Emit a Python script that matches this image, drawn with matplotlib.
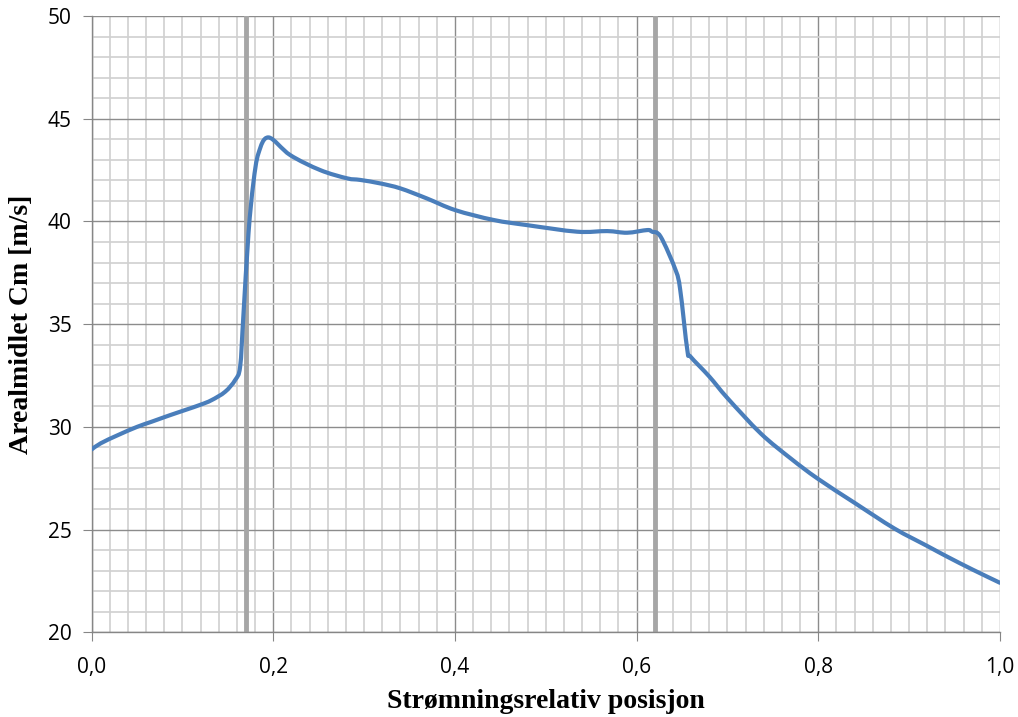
import matplotlib
matplotlib.use("Agg")
import matplotlib.pyplot as plt
import numpy as np
from matplotlib.path import Path
from matplotlib.patches import PathPatch
from matplotlib.ticker import MultipleLocator, FuncFormatter

# Data
pos = [0.000, 0.010, 0.029, 0.050, 0.066, 0.085, 0.103, 0.120, 0.132, 0.147,
       0.158, 0.1635, 0.167, 0.1727, 0.178, 0.1837, 0.1947, 0.2186, 0.2516,
       0.281, 0.2958, 0.3178, 0.3398, 0.369, 0.4004, 0.4426, 0.4794, 0.5345,
       0.5676, 0.5896, 0.6117, 0.617, 0.6264, 0.6429, 0.648, 0.6558, 0.6595,
       0.680, 0.700, 0.7366, 0.770, 0.799, 0.840, 0.8835, 0.920, 0.942, 0.970, 1.000]
cm = [28.9, 29.2, 29.6, 30.0, 30.25, 30.55, 30.82, 31.08, 31.3, 31.71,
      32.28, 32.93, 35.36, 39.42, 41.85, 43.32, 44.09, 43.23, 42.5,
      42.1, 42.02, 41.85, 41.61, 41.12, 40.55, 40.07, 39.82, 39.5,
      39.53, 39.45, 39.58, 39.5, 39.26, 37.63, 36.66, 33.74, 33.41,
      32.45, 31.4, 29.68, 28.45, 27.49, 26.3, 25.06, 24.2, 23.68, 23.05, 22.41]
vlines = [0.17, 0.62]

xlabel = "Strømningsrelativ posisjon"
ylabel = "Arealmidlet Cm [m/s]"

fig = plt.figure(figsize=(10.18, 7.17), dpi=100)
ax = fig.add_axes([0.090, 0.1181, 0.8923, 0.8596])

ax.set_xlim(0, 1)
ax.set_ylim(20, 50)
ax.xaxis.set_major_locator(MultipleLocator(0.2))
ax.xaxis.set_minor_locator(MultipleLocator(0.02))
ax.yaxis.set_major_locator(MultipleLocator(5))
ax.yaxis.set_minor_locator(MultipleLocator(1))

ax.grid(which="minor", color="#d0d0d0", linewidth=1.2)
ax.grid(which="major", color="#8c8c8c", linewidth=1.0)
ax.set_axisbelow(True)

for v in vlines:
    ax.axvline(v, color="#a6a6a6", linewidth=3.5, zorder=2)

# Smoothed line (Excel-style): Catmull-Rom through the data points, drawn as
# cubic Bezier segments in data coordinates.
x = np.asarray(pos)
y = np.asarray(cm)
t = 1.0 / 6.0
verts = [(x[0], y[0])]
codes = [Path.MOVETO]
n = len(x)
for i in range(n - 1):
    x0, y0 = (x[i - 1], y[i - 1]) if i > 0 else (x[i], y[i])
    x3, y3 = (x[i + 2], y[i + 2]) if i + 2 < n else (x[i + 1], y[i + 1])
    c1 = (x[i] + (x[i + 1] - x0) * t, y[i] + (y[i + 1] - y0) * t)
    c2 = (x[i + 1] - (x3 - x[i]) * t, y[i + 1] - (y3 - y[i]) * t)
    verts += [c1, c2, (x[i + 1], y[i + 1])]
    codes += [Path.CURVE4] * 3
ax.add_patch(PathPatch(Path(verts, codes), facecolor="none", edgecolor="#4a7ebb",
                       linewidth=3.0, zorder=3, joinstyle="round", capstyle="round"))

for s in ["top", "right"]:
    ax.spines[s].set_visible(False)
for s in ["left", "bottom"]:
    ax.spines[s].set_color("#868686")
    ax.spines[s].set_linewidth(1.0)

ax.tick_params(which="major", direction="out", length=6.5, color="#868686",
               labelsize=15, labelcolor="#000000", pad=11)
ax.tick_params(which="minor", length=0)
ax.tick_params(axis="y", pad=8)

ax.xaxis.set_major_formatter(FuncFormatter(lambda v, p: f"{v:.1f}".replace(".", ",")))
ax.yaxis.set_major_formatter(FuncFormatter(lambda v, p: f"{v:.0f}"))
for lbl in ax.get_xticklabels() + ax.get_yticklabels():
    lbl.set_fontfamily("Open Sans")

ax.set_xlabel(xlabel, fontfamily="Liberation Serif", fontweight="bold",
              fontsize=20, labelpad=8)
ax.set_ylabel(ylabel, fontfamily="Liberation Serif", fontweight="bold",
              fontsize=20, labelpad=10)

fig.savefig("out.png", dpi=100)
